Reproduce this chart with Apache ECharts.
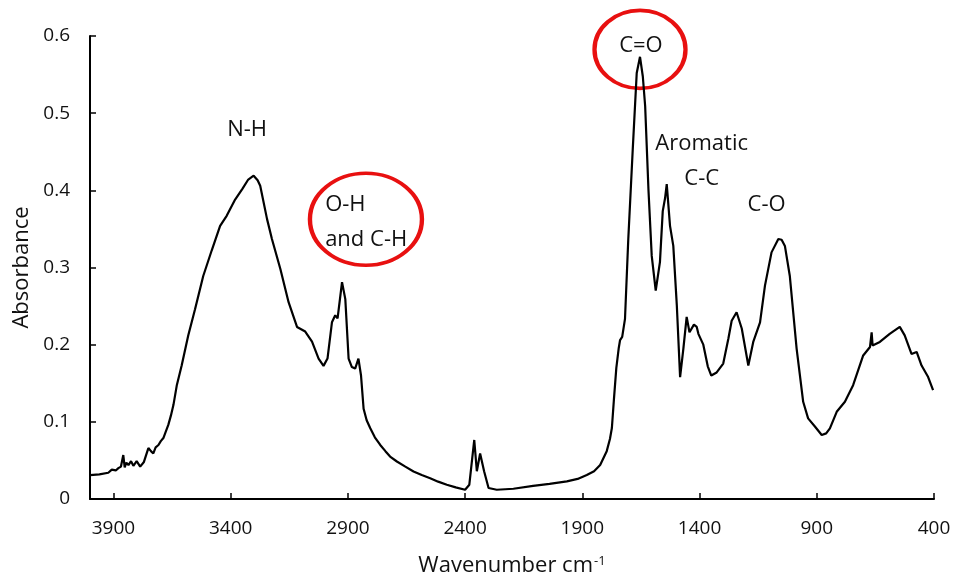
<!DOCTYPE html>
<html>
<head>
<meta charset="utf-8">
<script src="https://cdn.jsdelivr.net/npm/echarts@6/dist/echarts.min.js"></script>
<style>
  html, body { margin: 0; padding: 0; background: #fff; }
  #chart { width: 954px; height: 582px; }
</style>
</head>
<body>
<div id="chart"></div>
<script>
// spectrum (wavenumber cm-1, absorbance)
const wavenumbers = [
  4000, 3960, 3922, 3907, 3890, 3879, 3868, 3858, 3852, 3845, 3836, 3825, 3815, 3801, 3786, 3770,
  3751, 3740, 3730, 3720, 3708, 3698, 3687, 3676, 3666, 3655, 3644, 3630, 3609, 3581, 3552, 3517,
  3481, 3445, 3417, 3381, 3350, 3325, 3302, 3285, 3274, 3245, 3224, 3188, 3153, 3117, 3082, 3053,
  3025, 3004, 2987, 2968, 2954, 2944, 2925, 2911, 2897, 2883, 2869, 2855, 2844, 2833, 2820, 2805,
  2785, 2762, 2740, 2720, 2691, 2655, 2620, 2585, 2549, 2515, 2478, 2440, 2400, 2382, 2361, 2350,
  2336, 2319, 2300, 2265, 2194, 2110, 2040, 1966, 1920, 1881, 1850, 1824, 1796, 1782, 1774, 1765,
  1755, 1745, 1739, 1730, 1725, 1718, 1704, 1685, 1668, 1654, 1642, 1632, 1618, 1604, 1587, 1569,
  1557, 1547, 1540, 1526, 1512, 1497, 1483, 1469, 1455, 1443, 1424, 1412, 1405, 1384, 1365, 1350,
  1327, 1299, 1277, 1263, 1242, 1220, 1192, 1171, 1142, 1121, 1093, 1064, 1050, 1036, 1015, 986,
  958, 937, 908, 879, 860, 844, 815, 780, 745, 702, 673, 666, 662, 631, 589, 546,
  525, 496, 474, 453, 425, 418, 404
];
const absorbance = [
  0.031, 0.032, 0.034, 0.038, 0.037, 0.040, 0.042, 0.057, 0.041, 0.047, 0.044, 0.049, 0.043, 0.049, 0.042, 0.048,
  0.066, 0.062, 0.059, 0.067, 0.070, 0.075, 0.079, 0.088, 0.096, 0.108, 0.122, 0.147, 0.173, 0.212, 0.246, 0.289,
  0.322, 0.354, 0.367, 0.388, 0.402, 0.414, 0.419, 0.413, 0.406, 0.363, 0.337, 0.298, 0.255, 0.223, 0.217, 0.204,
  0.182, 0.1725, 0.182, 0.229, 0.238, 0.234, 0.281, 0.259, 0.182, 0.171, 0.169, 0.182, 0.160, 0.117, 0.102, 0.092,
  0.080, 0.070, 0.062, 0.055, 0.0486, 0.042, 0.0357, 0.031, 0.027, 0.0225, 0.0185, 0.015, 0.012, 0.0185, 0.0765, 0.036,
  0.059, 0.036, 0.0142, 0.012, 0.0133, 0.017, 0.0195, 0.0228, 0.026, 0.031, 0.036, 0.044, 0.062, 0.078, 0.092, 0.13,
  0.17, 0.195, 0.206, 0.21, 0.212, 0.2335, 0.337, 0.453, 0.552, 0.573, 0.5475, 0.509, 0.401, 0.315, 0.270, 0.307,
  0.373, 0.39, 0.408, 0.354, 0.328, 0.251, 0.158, 0.195, 0.236, 0.216, 0.226, 0.223, 0.214, 0.200, 0.172, 0.160,
  0.164, 0.1755, 0.208, 0.231, 0.242, 0.221, 0.173, 0.2035, 0.229, 0.2765, 0.3196, 0.337, 0.336, 0.328, 0.289, 0.195,
  0.126, 0.1045, 0.094, 0.083, 0.085, 0.0916, 0.113, 0.126, 0.1475, 0.186, 0.197, 0.216, 0.199, 0.2035, 0.214, 0.223,
  0.212, 0.188, 0.1906, 0.173, 0.158, 0.160, 0.141
];

// peak annotations
const labelTexts = ['N-H', 'O-H\nand C-H', 'C=O', 'Aromatic\nC-C', 'C-O'];
const labelWn = [3330, 2997, 1650, 1391, 1114];
const labelAbs = [0.478, 0.359, 0.587, 0.438, 0.381];
const labelAlign = ['center', 'left', 'center', 'center', 'center'];

// red rings drawn round two of them
const ringWn = [2823, 1654];
const ringAbs = [0.3626, 0.5826];

const FONT = '"Open Sans", sans-serif';
const INK = '#111';
const ellipse = 'path://M50,0 C77.6,0 100,22.4 100,50 C100,77.6 77.6,100 50,100 C22.4,100 0,77.6 0,50 C0,22.4 22.4,0 50,0 Z';

const chart = echarts.init(document.getElementById('chart'));

const option = {
  animation: false,
  backgroundColor: '#fff',
  grid: { left: 90, right: 20, top: 36, bottom: 81 },
  xAxis: {
    type: 'value',
    inverse: true,
    min: 400,
    max: 4000,
    interval: 500,
    name: 'Wavenumber cm{sup|-1}',
    nameLocation: 'middle',
    nameGap: 56,
    nameTextStyle: {
      fontFamily: FONT, fontSize: 22, color: INK,
      rich: { sup: { fontFamily: FONT, fontSize: 13, color: INK, verticalAlign: 'top', padding: [0, 0, 9, 1] } }
    },
    axisLine: { onZero: false, lineStyle: { color: '#000', width: 2 } },
    axisTick: { inside: true, length: 6, lineStyle: { color: '#000', width: 1.5 } },
    axisLabel: {
      margin: 20, showMaxLabel: false, fontFamily: FONT, fontSize: 19, color: INK,
      formatter: v => String(v)
    },
    splitLine: { show: false }
  },
  yAxis: {
    type: 'value',
    min: 0,
    max: 0.6,
    interval: 0.1,
    name: 'Absorbance',
    nameLocation: 'middle',
    nameRotate: 90,
    nameGap: 55,
    nameTextStyle: { fontFamily: FONT, fontSize: 22, color: INK },
    axisLine: { show: true, lineStyle: { color: '#000', width: 2 } },
    axisTick: { show: true, inside: true, length: 6, lineStyle: { color: '#000', width: 1.5 } },
    axisLabel: { margin: 20, fontFamily: FONT, fontSize: 19, color: INK },
    splitLine: { show: false }
  },
  series: [
    {
      type: 'line',
      data: wavenumbers.map((w, i) => [w, absorbance[i]]),
      showSymbol: false,
      silent: true,
      lineStyle: { color: '#000', width: 2.2 }
    },
    {
      type: 'scatter',
      silent: true,
      clip: false,
      symbol: 'circle',
      symbolSize: 1,
      itemStyle: { color: 'rgba(0,0,0,0)', opacity: 1 },
      data: labelTexts.map((t, i) => ({
        value: [labelWn[i], labelAbs[i]],
        label: {
          show: true,
          position: 'inside',
          formatter: t,
          align: labelAlign[i],
          verticalAlign: 'middle',
          lineHeight: 35,
          fontFamily: FONT,
          fontSize: 22,
          color: INK,
          textBorderWidth: 0,
          opacity: 1
        }
      }))
    },
    {
      type: 'scatter',
      silent: true,
      clip: false,
      symbol: ellipse,
      itemStyle: { color: 'none', borderColor: '#e81010', borderWidth: 4, opacity: 1 },
      data: [
        { value: [ringWn[0], ringAbs[0]], symbolSize: [112, 92] },
        { value: [ringWn[1], ringAbs[1]], symbolSize: [91, 78] }
      ]
    }
  ]
};

chart.setOption(option);
</script>
</body>
</html>
